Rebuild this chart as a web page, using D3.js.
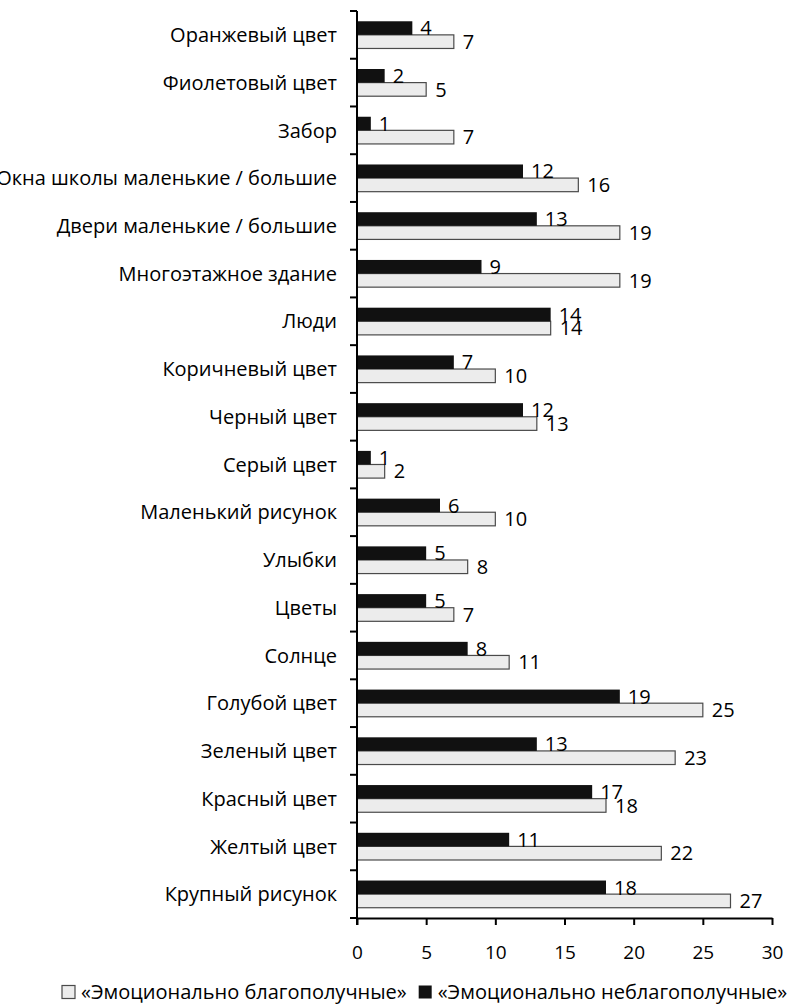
<!DOCTYPE html>
<html>
<head>
<meta charset="utf-8">
<script src="https://cdn.jsdelivr.net/npm/d3@7"></script>
<style>
  body { margin: 0; background: #fff; }
  svg text { font-family: "Open Sans", sans-serif; fill: #000; }
</style>
</head>
<body>
<div id="chart"></div>
<script>
// categories top to bottom
var categories = [
  "Оранжевый цвет", "Фиолетовый цвет", "Забор", "Окна школы маленькие / большие",
  "Двери маленькие / большие", "Многоэтажное здание", "Люди", "Коричневый цвет",
  "Черный цвет", "Серый цвет", "Маленький рисунок", "Улыбки", "Цветы", "Солнце",
  "Голубой цвет", "Зеленый цвет", "Красный цвет", "Желтый цвет", "Крупный рисунок"
];
// «Эмоционально неблагополучные» (dark)
var unwell = [4, 2, 1, 12, 13, 9, 14, 7, 12, 1, 6, 5, 5, 8, 19, 13, 17, 11, 18];
// «Эмоционально благополучные» (light)
var well = [7, 5, 7, 16, 19, 19, 14, 10, 13, 2, 10, 8, 7, 11, 25, 23, 18, 22, 27];
var xTicks = [0, 5, 10, 15, 20, 25, 30];
var seriesNames = ["«Эмоционально благополучные»", "«Эмоционально неблагополучные»"];

(function () {
  var width = 799;
  var height = 1008;

  var svg = d3.select("#chart")
    .append("svg")
    .attr("width", width)
    .attr("height", height);

  var x = d3.scaleLinear().domain([0, 30]).range([357, 772]);
  var y = d3.scaleBand().domain(categories).range([11, 918]);

  // the two bars of a group sit in the middle of the band
  var half = 13.6;
  var sub = d3.scaleBand().domain(["unwell", "well"])
    .range([y.bandwidth() / 2 - half, y.bandwidth() / 2 + half]);

  var rows = categories.map(function (c, i) {
    return { name: c, unwell: unwell[i], well: well[i] };
  });

  var groups = svg.selectAll(".row")
    .data(rows)
    .enter().append("g")
    .attr("class", "row")
    .attr("transform", function (d) { return "translate(0," + y(d.name) + ")"; });

  groups.append("rect")
    .attr("x", x(0))
    .attr("y", sub("well"))
    .attr("width", function (d) { return x(d.well) - x(0); })
    .attr("height", sub.bandwidth())
    .attr("fill", "#ececec")
    .attr("stroke", "#4a4a4a")
    .attr("stroke-width", 1.2);

  groups.append("rect")
    .attr("x", x(0))
    .attr("y", sub("unwell"))
    .attr("width", function (d) { return x(d.unwell) - x(0); })
    .attr("height", sub.bandwidth())
    .attr("fill", "#111");

  // value labels
  groups.append("text")
    .attr("x", function (d) { return x(d.unwell) + 8; })
    .attr("y", sub("unwell") + sub.bandwidth() / 2)
    .attr("dy", "0.36em")
    .style("font-size", "20px")
    .text(function (d) { return d.unwell; });

  groups.append("text")
    .attr("x", function (d) { return x(d.well) + 9; })
    .attr("y", sub("well") + sub.bandwidth() / 2)
    .attr("dy", "0.36em")
    .style("font-size", "20px")
    .text(function (d) { return d.well; });

  // category labels
  groups.append("text")
    .attr("x", 337)
    .attr("y", y.bandwidth() / 2)
    .attr("dy", "0.36em")
    .attr("text-anchor", "end")
    .style("font-size", "20px")
    .text(function (d) { return d.name; });

  // y axis with ticks at band edges
  var edges = categories.map(function (c) { return y(c); }).concat([918]);
  svg.append("line")
    .attr("x1", x(0)).attr("x2", x(0))
    .attr("y1", 11).attr("y2", 925)
    .attr("stroke", "#000").attr("stroke-width", 2);
  svg.selectAll(".ytick")
    .data(edges)
    .enter().append("line")
    .attr("class", "ytick")
    .attr("x1", x(0) - 7).attr("x2", x(0))
    .attr("y1", function (d) { return d; })
    .attr("y2", function (d) { return d; })
    .attr("stroke", "#000").attr("stroke-width", 2);

  // x axis
  var xAxis = svg.append("g")
    .attr("transform", "translate(0,918)")
    .call(d3.axisBottom(x).tickValues(xTicks).tickSize(7).tickSizeOuter(0));
  xAxis.select(".domain").attr("stroke", "#000").attr("stroke-width", 2);
  xAxis.selectAll(".tick line").attr("stroke", "#000").attr("stroke-width", 2);
  xAxis.selectAll(".tick text")
    .attr("y", 34)
    .attr("dy", "0.36em")
    .style("font-family", "'Open Sans', sans-serif")
    .style("font-size", "19px")
    .attr("fill", "#000");

  // legend
  var legend = svg.append("g").attr("transform", "translate(62,992)");
  legend.append("rect")
    .attr("x", 0).attr("y", -6.5).attr("width", 13).attr("height", 13)
    .attr("fill", "#ececec").attr("stroke", "#4a4a4a").attr("stroke-width", 1.2);
  var t1 = legend.append("text")
    .attr("x", 19).attr("dy", "0.36em")
    .style("font-size", "20px")
    .text(seriesNames[0]);
  var w1 = t1.node().getComputedTextLength();
  legend.append("rect")
    .attr("x", 19 + w1 + 12).attr("y", -6.5).attr("width", 13).attr("height", 13)
    .attr("fill", "#111");
  legend.append("text")
    .attr("x", 19 + w1 + 12 + 19).attr("dy", "0.36em")
    .style("font-size", "20px")
    .text(seriesNames[1]);
})();
</script>
</body>
</html>
